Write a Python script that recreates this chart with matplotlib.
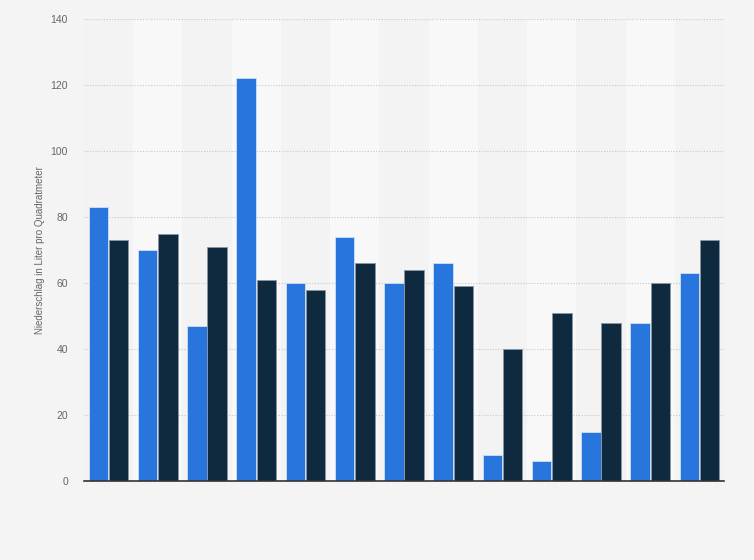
import matplotlib
matplotlib.use("Agg")
import matplotlib.pyplot as plt
import numpy as np

plt.rcParams['font.family'] = ['Liberation Sans', 'DejaVu Sans']

groups = [str(i) for i in range(1, 14)]
series_a = [83, 70, 47, 122, 60, 74, 60, 66, 8, 6, 15, 48, 63]
series_b = [73, 75, 71, 61, 58, 66, 64, 59, 40, 51, 48, 60, 73]
yticks = [0, 20, 40, 60, 80, 100, 120, 140]
ylabel = "Niederschlag in Liter pro Quadratmeter"

fig = plt.figure(figsize=(7.54, 5.6), dpi=100, facecolor='#f4f4f4')
ax = fig.add_axes([84/754, (560-481)/560, (724-84)/754, (481-19)/560])
ax.set_facecolor('#f3f3f3')

n = len(groups)
x = np.arange(n)
ax.set_xlim(-0.5, n - 0.5)
ax.set_ylim(0, 140)

# alternating stripes
for i in range(n):
    if i % 2 == 1:
        ax.axvspan(i - 0.5, i + 0.5, color='#f8f8f8', zorder=0, lw=0)

ax.set_yticks(yticks)
ax.yaxis.grid(True, color='#c8c8c8', linestyle=(0, (1, 1.5)), linewidth=0.8, zorder=1)
ax.set_axisbelow(True)

w = 0.395
off = 0.205
ax.bar(x - off, series_a, width=w, color='#2876dd', edgecolor='#cfe0f5', linewidth=0.6, zorder=3)
ax.bar(x + off, series_b, width=w, color='#0f2a3f', edgecolor='#8a98a5', linewidth=0.6, zorder=3)

for s in ['top', 'right', 'left']:
    ax.spines[s].set_visible(False)
ax.spines['bottom'].set_color('#333333')
ax.spines['bottom'].set_linewidth(1.2)
ax.spines['bottom'].set_zorder(4)

ax.set_xticks([])
ax.tick_params(axis='y', length=0, pad=11.5, labelsize=7.5, labelcolor='#666666')
ax.set_ylabel(ylabel, fontsize=7, color='#666666', labelpad=4)

fig.savefig('out.png', dpi=100, facecolor=fig.get_facecolor())
